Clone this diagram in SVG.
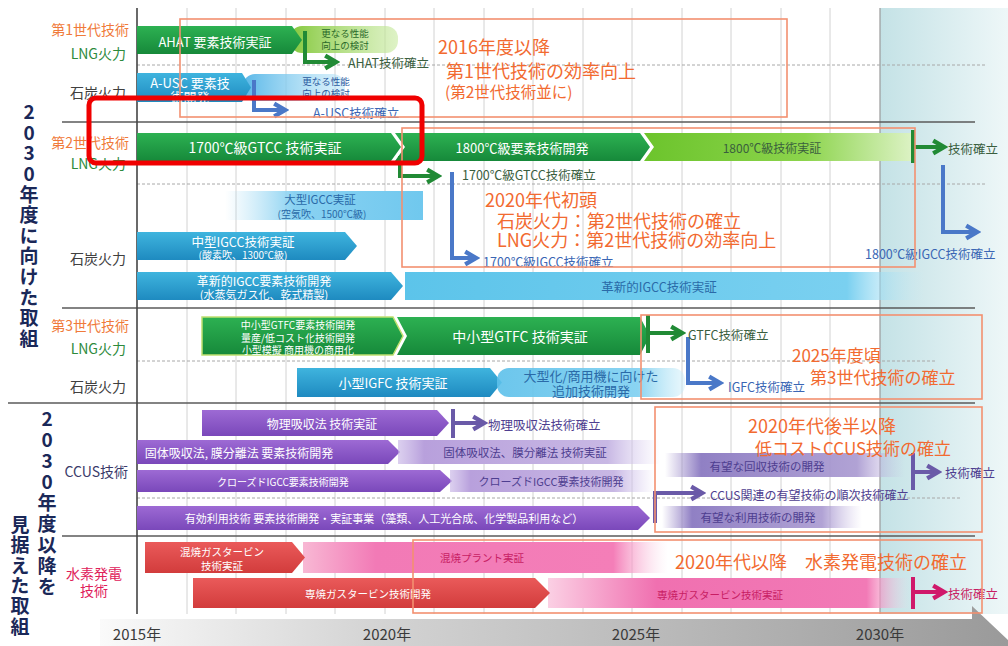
<svg xmlns="http://www.w3.org/2000/svg" width="1008" height="646" viewBox="0 0 1008 646">
<defs>
<style>
text{font-family:'Noto Sans CJK JP','Noto Sans',sans-serif;dominant-baseline:central;}
.m{text-anchor:middle}
.e{text-anchor:end}
.w{fill:#ffffff}
.big{fill:#f26a30;font-size:18px}
.gr{stroke:#d2d2d2;stroke-width:1}
.dash{stroke:#a8a8a8;stroke-width:1;stroke-dasharray:3 2}
.sep{stroke:#5a5a5a;stroke-width:1.6}
.obox{fill:none;stroke:#f39070;stroke-width:1.6}
.cg{fill:none;stroke:#218a35;stroke-width:4}
.cb{fill:none;stroke:#4a78c8;stroke-width:4}
.cp{fill:none;stroke:#6a5aa8;stroke-width:4}
.cm{fill:none;stroke:#d0186a;stroke-width:4}
.tg{fill:#3a5e3e}
.tb{fill:#3a66b4}
.tp{fill:#4e3e90}
.tk{fill:#c81e64}
.lab{font-size:14px;text-anchor:end}
.vt{font-size:19px;font-weight:bold;fill:#1a2858;text-anchor:start;writing-mode:vertical-rl;text-orientation:upright}
.yr{font-size:15px;fill:#3a3a3a;text-anchor:middle}
</style>
<linearGradient id="gG" x1="0" y1="0" x2="0" y2="1"><stop offset="0" stop-color="#2db152"/><stop offset="1" stop-color="#16893a"/></linearGradient>
<linearGradient id="gB" x1="0" y1="0" x2="0" y2="1"><stop offset="0" stop-color="#3fb4de"/><stop offset="1" stop-color="#1e8ac0"/></linearGradient>
<linearGradient id="gP" x1="0" y1="0" x2="0" y2="1"><stop offset="0" stop-color="#9d6ad4"/><stop offset="1" stop-color="#7a48ba"/></linearGradient>
<linearGradient id="gR" x1="0" y1="0" x2="0" y2="1"><stop offset="0" stop-color="#ea5a5a"/><stop offset="1" stop-color="#d23c3c"/></linearGradient>
<linearGradient id="gLG" x1="0" y1="0" x2="1" y2="0"><stop offset="0" stop-color="#6cc42c"/><stop offset="0.6" stop-color="#8cd44c"/><stop offset="1" stop-color="#dcf2c4"/></linearGradient>
<linearGradient id="gLG2" x1="0" y1="0" x2="1" y2="0"><stop offset="0" stop-color="#84c83c"/><stop offset="1" stop-color="#c8eaa0" stop-opacity="0.6"/></linearGradient>
<linearGradient id="gLB2" x1="0" y1="0" x2="1" y2="0"><stop offset="0" stop-color="#5ab8e8"/><stop offset="1" stop-color="#b8e4f8" stop-opacity="0.5"/></linearGradient>
<linearGradient id="gLBin" x1="0" y1="0" x2="1" y2="0"><stop offset="0" stop-color="#a8dcf4" stop-opacity="0"/><stop offset="0.35" stop-color="#8ad2f2"/><stop offset="1" stop-color="#70c8ee"/></linearGradient>
<linearGradient id="gLBout" x1="0" y1="0" x2="1" y2="0"><stop offset="0" stop-color="#5cc4ea"/><stop offset="0.85" stop-color="#7ad0f0"/><stop offset="1" stop-color="#c8ecf8" stop-opacity="0"/></linearGradient>
<linearGradient id="gLBboth" x1="0" y1="0" x2="1" y2="0"><stop offset="0" stop-color="#5cc0ea" stop-opacity="0.9"/><stop offset="0.75" stop-color="#8ad4f2"/><stop offset="1" stop-color="#c8ecf8" stop-opacity="0.4"/></linearGradient>
<linearGradient id="gLPout" x1="0" y1="0" x2="1" y2="0"><stop offset="0" stop-color="#c4b0e4" stop-opacity="0.6"/><stop offset="0.1" stop-color="#b8a0dc"/><stop offset="0.8" stop-color="#c8b8e4"/><stop offset="1" stop-color="#d8ccf0" stop-opacity="0"/></linearGradient>
<linearGradient id="gLPboth" x1="0" y1="0" x2="1" y2="0"><stop offset="0" stop-color="#9a88c8" stop-opacity="0"/><stop offset="0.15" stop-color="#9080c4"/><stop offset="0.8" stop-color="#a898d0" stop-opacity="0.9"/><stop offset="1" stop-color="#c8bce4" stop-opacity="0"/></linearGradient>
<linearGradient id="gPK" x1="0" y1="0" x2="1" y2="0"><stop offset="0" stop-color="#f8b8d4"/><stop offset="0.2" stop-color="#f27ab6"/><stop offset="0.85" stop-color="#f47eb8"/><stop offset="1" stop-color="#fbd0e4" stop-opacity="0"/></linearGradient>
<linearGradient id="gPK2" x1="0" y1="0" x2="1" y2="0"><stop offset="0" stop-color="#fbd0e4"/><stop offset="0.3" stop-color="#f070b0"/><stop offset="0.88" stop-color="#f27ab6"/><stop offset="1" stop-color="#fbd0e4" stop-opacity="0"/></linearGradient>
<linearGradient id="gTeal" x1="0" y1="0" x2="1" y2="0"><stop offset="0" stop-color="#c4e2e6"/><stop offset="1" stop-color="#eef7f8"/></linearGradient>
<linearGradient id="gAxis" x1="0" y1="0" x2="1" y2="0"><stop offset="0" stop-color="#fafafa"/><stop offset="0.3" stop-color="#d4d4d4"/><stop offset="1" stop-color="#9a9a9a"/></linearGradient>
<marker id="mG" viewBox="0 0 10 10" refX="8" refY="5" markerWidth="4.5" markerHeight="4.5" orient="auto"><path d="M2,1.5L8,5L2,8.5" fill="none" stroke="#218a35" stroke-width="2.4"/></marker>
<marker id="mB" viewBox="0 0 10 10" refX="8" refY="5" markerWidth="4.5" markerHeight="4.5" orient="auto"><path d="M2,1.5L8,5L2,8.5" fill="none" stroke="#4a78c8" stroke-width="2.4"/></marker>
<marker id="mP" viewBox="0 0 10 10" refX="8" refY="5" markerWidth="4.5" markerHeight="4.5" orient="auto"><path d="M2,1.5L8,5L2,8.5" fill="none" stroke="#6a5aa8" stroke-width="2.4"/></marker>
<marker id="mM" viewBox="0 0 10 10" refX="8" refY="5" markerWidth="4.5" markerHeight="4.5" orient="auto"><path d="M2,1.5L8,5L2,8.5" fill="none" stroke="#d0186a" stroke-width="2.4"/></marker>
</defs>
<rect width="1008" height="646" fill="#ffffff"/>
<rect x="880" y="8" width="128" height="606" fill="url(#gTeal)"/>
<g id="grid">
<line class="gr" x1="187" y1="8" x2="187" y2="614"/><line class="gr" x1="236" y1="8" x2="236" y2="614"/>
<line class="gr" x1="286" y1="8" x2="286" y2="614"/><line class="gr" x1="335" y1="8" x2="335" y2="614"/>
<line class="gr" x1="385" y1="8" x2="385" y2="614"/><line class="gr" x1="434" y1="8" x2="434" y2="614"/>
<line class="gr" x1="484" y1="8" x2="484" y2="614"/><line class="gr" x1="533" y1="8" x2="533" y2="614"/>
<line class="gr" x1="583" y1="8" x2="583" y2="614"/><line class="gr" x1="632" y1="8" x2="632" y2="614"/>
<line class="gr" x1="682" y1="8" x2="682" y2="614"/><line class="gr" x1="731" y1="8" x2="731" y2="614"/>
<line class="gr" x1="781" y1="8" x2="781" y2="614"/><line class="gr" x1="830" y1="8" x2="830" y2="614"/>
<line x1="880" y1="8" x2="880" y2="614" stroke="#9a9a9a" stroke-width="1.2"/>
<line class="dash" x1="137" y1="65" x2="985" y2="65"/>
<line class="dash" x1="137" y1="184" x2="985" y2="184"/>
<line class="dash" x1="137" y1="361" x2="935" y2="361"/>
<line class="dash" x1="137" y1="498" x2="960" y2="498"/>
<line class="sep" x1="62" y1="122" x2="975" y2="122"/>
<line class="sep" x1="62" y1="308" x2="975" y2="308"/>
<line class="sep" x1="8" y1="403" x2="975" y2="403"/>
<line class="sep" x1="62" y1="536" x2="975" y2="536"/>
<line x1="137" y1="8" x2="137" y2="614" stroke="#444" stroke-width="1.6"/>
</g>
<g id="axis">
<polygon points="100,619 972,619 972,606 1008,640 1008,646 100,646" fill="url(#gAxis)"/>
<text class="yr" x="137" y="633">2015年</text>
<text class="yr" x="387" y="633">2020年</text>
<text class="yr" x="636" y="633">2025年</text>
<text class="yr" x="880" y="633">2030年</text>
</g>
<g id="n-ahat-next"><rect x="290" y="26" width="108" height="27" rx="12" fill="url(#gLG2)"/><text class="m" font-size="9.5" fill="#2a6a2a"><tspan x="345" y="33">更なる性能</tspan><tspan x="345" y="45">向上の検討</tspan></text></g>
<g id="n-ahat"><path d="M137,26H292L302,40L292,54H137Z" fill="url(#gG)"/><text x="215" y="41" class="m w" font-size="13">AHAT 要素技術実証</text></g>
<g id="n-ausc-next"><rect x="243" y="74" width="102" height="27" rx="12" fill="url(#gLB2)"/><text class="m" font-size="9.5" fill="#2a5aa0"><tspan x="326" y="81">更なる性能</tspan><tspan x="326" y="93">向上の検討</tspan></text></g>
<g id="n-ausc"><path d="M137,73H242L251,87.5L242,102H137Z" fill="url(#gB)"/><text class="m w" font-size="13"><tspan x="190" y="82">A-USC 要素技</tspan><tspan x="190" y="96">術開発</tspan></text></g>
<g id="n-gtcc1700"><path d="M137,133H391L401,147L391,161H137Z" fill="url(#gG)"/><text x="265" y="147" class="m w" font-size="14">1700℃級GTCC 技術実証</text></g>
<g id="n-gtcc1800dev"><path d="M395,133H640L650,147L640,161H395L405,147Z" fill="url(#gG)"/><text x="522" y="147" class="m w" font-size="13">1800℃級要素技術開発</text></g>
<g id="n-gtcc1800demo"><path d="M644,133H912V161H644L654,147Z" fill="url(#gLG)"/><text x="772" y="147" class="m tg" font-size="12">1800℃級技術実証</text></g>
<g id="n-igcc-large"><rect x="225" y="191" width="198" height="29" fill="url(#gLBin)"/><text class="m" fill="#2a6aa8"><tspan x="320" y="199" font-size="11.5">大型IGCC実証</tspan><tspan x="322" y="213" font-size="10">(空気吹、1500℃級)</tspan></text></g>
<g id="n-igcc-mid"><path d="M137,232H345L357,246L345,260H137Z" fill="url(#gB)"/><text class="m w"><tspan x="243" y="241" font-size="12.5">中型IGCC技術実証</tspan><tspan x="243" y="254" font-size="10">(酸素吹、1300℃級)</tspan></text></g>
<g id="n-igcc-innov-dev"><path d="M137,272H391L403,286L391,300H137Z" fill="url(#gB)"/><text class="m w"><tspan x="264" y="280" font-size="12">革新的IGCC要素技術開発</tspan><tspan x="264" y="294" font-size="11">(水蒸気ガス化、乾式精製)</tspan></text></g>
<g id="n-igcc-innov-demo"><rect x="405" y="272" width="520" height="28" fill="url(#gLBout)"/><text x="659" y="286" class="m" font-size="12.5" fill="#2a6aa8">革新的IGCC技術実証</text></g>
<g id="n-gtfc-dev"><path d="M202,317H393L403,336L393,355H202Z" fill="url(#gG)" stroke="#c0e070" stroke-width="1.5"/><text class="m w" font-size="10"><tspan x="298" y="324">中小型GTFC要素技術開発</tspan><tspan x="298" y="337">量産/低コスト化技術開発</tspan><tspan x="298" y="349">小型模擬 商用機の商用化</tspan></text></g>
<g id="n-gtfc-demo"><path d="M397,317H640L650,336L640,355H397L407,336Z" fill="url(#gG)"/><text x="520" y="336" class="m w" font-size="14">中小型GTFC 技術実証</text></g>
<g id="n-igfc"><path d="M297,368H490L502,382.5L490,397H297Z" fill="url(#gB)"/><text x="393" y="382" class="m w" font-size="13">小型IGFC 技術実証</text></g>
<g id="n-igfc-next"><rect x="497" y="368" width="188" height="29" rx="12" fill="url(#gLBboth)"/><text class="m" font-size="13" fill="#2a6aa8"><tspan x="591" y="375">大型化/商用機に向けた</tspan><tspan x="591" y="390">追加技術開発</tspan></text></g>
<g id="n-phys"><path d="M202,410H437L449,423L437,436H202Z" fill="url(#gP)"/><text x="322" y="423" class="m w" font-size="12">物理吸収法 技術実証</text></g>
<g id="n-solid-dev"><path d="M137,440H388L400,452L388,464H137Z" fill="url(#gP)"/><text x="239" y="452" class="m w" font-size="12">固体吸収法, 膜分離法 要素技術開発</text></g>
<g id="n-solid-demo"><rect x="398" y="440" width="262" height="24" fill="url(#gLPout)"/><text x="525" y="452" class="m tp" font-size="11.5">固体吸収法、膜分離法 技術実証</text></g>
<g id="n-closed-dev"><path d="M137,470H440L452,481L440,492H137Z" fill="url(#gP)"/><text x="283" y="481" class="m w" font-size="10">クローズドIGCC要素技術開発</text></g>
<g id="n-closed-dev2"><rect x="450" y="470" width="205" height="22" fill="url(#gLPout)"/><text x="551" y="481" class="m tp" font-size="11">クローズドIGCC要素技術開発</text></g>
<g id="n-util"><path d="M137,506H638L650,518L638,530H137Z" fill="url(#gP)"/><text x="384" y="518" class="m w" font-size="11">有効利用技術 要素技術開発・実証事業（藻類、人工光合成、化学製品利用など）</text></g>
<g id="n-capture-next"><rect x="665" y="453" width="240" height="24" fill="url(#gLPboth)"/><text x="767" y="466" class="m tp" font-size="11.5">有望な回収技術の開発</text></g>
<g id="n-util-next"><rect x="662" y="506" width="200" height="22" fill="url(#gLPboth)"/><text x="758" y="517" class="m tp" font-size="11.5">有望な利用技術の開発</text></g>
<g id="n-cofire-plant"><rect x="303" y="542" width="365" height="31" fill="url(#gPK)"/><text x="482" y="557" class="m tk" font-size="10.5">混焼プラント実証</text></g>
<g id="n-cofire-gt"><path d="M145,542H292L305,557.5L292,573H145Z" fill="url(#gR)"/><text class="m w" font-size="10.5"><tspan x="222" y="551">混焼ガスタービン</tspan><tspan x="222" y="565">技術実証</tspan></text></g>
<g id="n-mono-demo"><rect x="548" y="578" width="362" height="30" fill="url(#gPK2)"/><text x="720" y="594" class="m tk" font-size="10.5">専焼ガスタービン技術実証</text></g>
<g id="n-mono-dev"><path d="M193,578H535L550,593L535,608H193Z" fill="url(#gR)"/><text x="368" y="593" class="m w" font-size="10.5">専焼ガスタービン技術開発</text></g>
<g id="connectors">
<path class="cg" d="M305,31V62H336" marker-end="url(#mG)"/>
<path class="cb" d="M254,80V110H285" marker-end="url(#mB)"/>
<path class="cg" d="M400,156V176H438" marker-end="url(#mG)"/>
<path class="cb" d="M452,172V258H476" marker-end="url(#mB)"/>
<path class="cg" d="M913,130V163"/>
<path class="cg" d="M913,147H944" marker-end="url(#mG)"/>
<path class="cb" d="M943,165V232H977" marker-end="url(#mB)"/>
<path class="cg" d="M648,315V353" stroke-width="5"/>
<path class="cg" d="M648,333H682" marker-end="url(#mG)"/>
<path class="cb" d="M688,337V383H720" marker-end="url(#mB)"/>
<path class="cp" d="M453,409V438" stroke-width="5"/>
<path class="cp" d="M453,423H484" marker-end="url(#mP)"/>
<path class="cp" d="M655,523V493H702" marker-end="url(#mP)"/>
<path class="cp" d="M913,453V490" stroke-width="5"/>
<path class="cp" d="M913,472H938" marker-end="url(#mP)"/>
<path class="cm" d="M913,577V609" stroke-width="6"/>
<path class="cm" d="M913,592H944" marker-end="url(#mM)"/>
</g>
<g id="milestones">
<text x="348" y="62" class="tg" font-size="12.5">AHAT技術確立</text>
<text x="313" y="112" class="tb" font-size="12.5">A-USC技術確立</text>
<text x="462" y="174" class="tg" font-size="12.5">1700℃級GTCC技術確立</text>
<text x="483" y="261" class="tb" font-size="12.5">1700℃級IGCC技術確立</text>
<text x="948" y="148" class="tg" font-size="12.5">技術確立</text>
<text x="865" y="253" class="tb" font-size="12.5">1800℃級IGCC技術確立</text>
<text x="688" y="334" class="tg" font-size="12.5">GTFC技術確立</text>
<text x="728" y="386" class="tb" font-size="12.5">IGFC技術確立</text>
<text x="488" y="424" class="tp" font-size="12.5">物理吸収法技術確立</text>
<text x="710" y="494" class="tp" font-size="12">CCUS関連の有望技術の順次技術確立</text>
<text x="945" y="472" class="tp" font-size="12.5">技術確立</text>
<text x="948" y="593" class="tk" font-size="12.5">技術確立</text>
</g>
<g id="targets">
<rect class="obox" x="180" y="19" width="607" height="98"/>
<text class="big"><tspan x="438" y="46">2016年度以降</tspan><tspan x="446" y="70">第1世代技術の効率向上</tspan><tspan x="445" y="91" font-size="15.5">(第2世代技術並に)</tspan></text>
<rect class="obox" x="402" y="128" width="513" height="139"/>
<text class="big" font-size="19"><tspan x="485" y="199">2020年代初頭</tspan><tspan x="497" y="220">石炭火力：第2世代技術の確立</tspan><tspan x="497" y="239">LNG火力：第2世代技術の効率向上</tspan></text>
<rect class="obox" x="641" y="315" width="341" height="84"/>
<text class="big"><tspan x="792" y="354" font-size="17">2025年度頃</tspan><tspan x="810" y="376" font-size="17">第3世代技術の確立</tspan></text>
<rect class="obox" x="655" y="407" width="327" height="125"/>
<text class="big"><tspan x="748" y="425">2020年代後半以降</tspan><tspan x="755" y="447" font-size="17">低コストCCUS技術の確立</tspan></text>
<rect class="obox" x="413" y="540" width="569" height="73"/>
<text class="big" x="675" y="561" font-size="19">2020年代以降　水素発電技術の確立</text>
</g>
<g id="row-labels">
<text class="lab" x="129" y="29" fill="#f07a3a">第1世代技術</text>
<text class="lab" x="126" y="53" fill="#2d8a3c">LNG火力</text>
<text class="lab" x="126" y="92" fill="#404040">石炭火力</text>
<text class="lab" x="129" y="142" fill="#f07a3a">第2世代技術</text>
<text class="lab" x="126" y="163" fill="#2d8a3c">LNG火力</text>
<text class="lab" x="126" y="258" fill="#404040">石炭火力</text>
<text class="lab" x="129" y="325" fill="#f07a3a">第3世代技術</text>
<text class="lab" x="126" y="348" fill="#2d8a3c">LNG火力</text>
<text class="lab" x="126" y="386" fill="#404040">石炭火力</text>
<text class="lab" x="128" y="471" fill="#3a3a6a">CCUS技術</text>
<text class="m" font-size="14" fill="#e0205a"><tspan x="94" y="573">水素発電</tspan><tspan x="94" y="590">技術</tspan></text>
</g>
<g id="section-labels">
<text class="vt" x="29" y="102.5" letter-spacing="1.6">2030年度に向けた取組</text>
<text class="vt" x="47" y="409.5" letter-spacing="2">2030年度以降を</text>
<text class="vt" x="20" y="515" letter-spacing="1.4">見据えた取組</text>
</g>
<rect id="highlight" x="89" y="98" width="333" height="65" rx="7" fill="none" stroke="#f00000" stroke-width="5"/>
</svg>
